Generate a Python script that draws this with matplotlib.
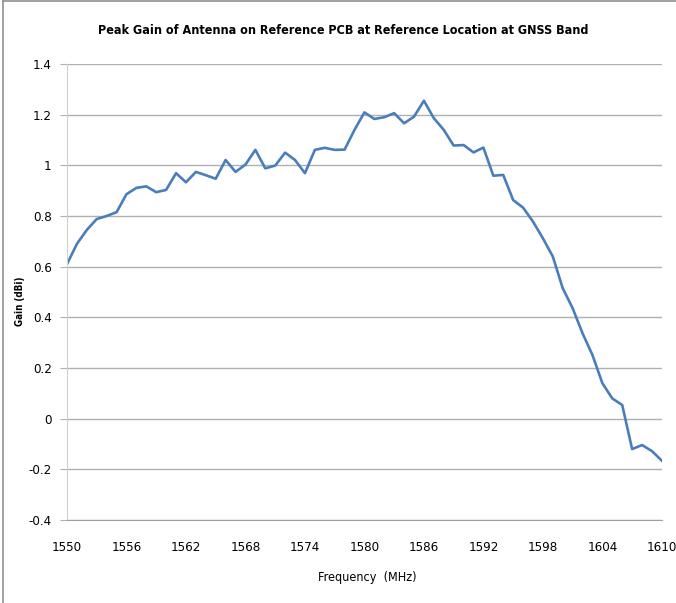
import numpy as np
import matplotlib.pyplot as plt
from matplotlib.lines import Line2D

freq = list(range(1550, 1611))
gain = [0.61, 0.69, 0.745, 0.788, 0.80, 0.815, 0.886, 0.911, 0.917, 0.894,
        0.903, 0.969, 0.933, 0.974, 0.961, 0.947, 1.021, 0.974, 1.003, 1.061,
        0.988, 0.999, 1.050, 1.021, 0.969, 1.061, 1.069, 1.061, 1.062, 1.140,
        1.209, 1.183, 1.190, 1.206, 1.166, 1.192, 1.255, 1.186, 1.140, 1.078,
        1.080, 1.051, 1.070, 0.959, 0.962, 0.863, 0.833, 0.778, 0.712, 0.640,
        0.515, 0.436, 0.337, 0.251, 0.140, 0.080, 0.054, -0.120, -0.104, -0.128,
        -0.166]
xticks = [1550, 1556, 1562, 1568, 1574, 1580, 1586, 1592, 1598, 1604, 1610]
yticks = [-0.4, -0.2, 0, 0.2, 0.4, 0.6, 0.8, 1, 1.2, 1.4]
ytick_labels = ['-0.4', '-0.2', '0', '0.2', '0.4', '0.6', '0.8', '1', '1.2', '1.4']

plt.rcParams['font.family'] = ['DejaVu Sans']
plt.rcParams['font.stretch'] = 'condensed'

fig = plt.figure(figsize=(6.76, 6.03), dpi=100)
ax = fig.add_axes([0.0991, 0.1376, 0.880, 0.7563])

ax.plot(freq, gain, color='#4A7EBB', linewidth=1.9, solid_joinstyle='round')

ax.set_xlim(1550, 1610)
ax.set_ylim(-0.4, 1.4)
ax.set_xticks(xticks)
ax.set_xticklabels([str(t) for t in xticks], fontsize=9.5)
ax.set_yticks(yticks)
ax.set_yticklabels(ytick_labels, fontsize=9.5)
ax.grid(axis='y', color='#b0b0b0', linewidth=1.0)
ax.tick_params(axis='x', length=0, pad=15)
ax.tick_params(axis='y', length=5, color='#b0b0b0', pad=6)

for side in ['top', 'right']:
    ax.spines[side].set_visible(False)
ax.spines['left'].set_color('#d0d0d0')
ax.spines['bottom'].set_color('#a0a0a0')

fig.suptitle('Peak Gain of Antenna on Reference PCB at Reference Location at GNSS Band',
             x=0.508, y=0.95, va='center', fontsize=9, fontweight='bold')
ax.set_xlabel('Frequency  (MHz)', fontsize=9)
ax.xaxis.set_label_coords(0.504, -0.112)
ax.set_ylabel('Gain (dBi)', fontsize=7, fontweight='bold')
ax.yaxis.set_label_coords(-0.071, 0.48)

# Rahmen links und oben
fig.add_artist(Line2D([0.005, 0.005], [0, 0.998], transform=fig.transFigure,
                      color='#909090', linewidth=1.2))
fig.add_artist(Line2D([0.005, 1.0], [0.998, 0.998], transform=fig.transFigure,
                      color='#909090', linewidth=1.2))

fig.savefig('out.png', dpi=100)
